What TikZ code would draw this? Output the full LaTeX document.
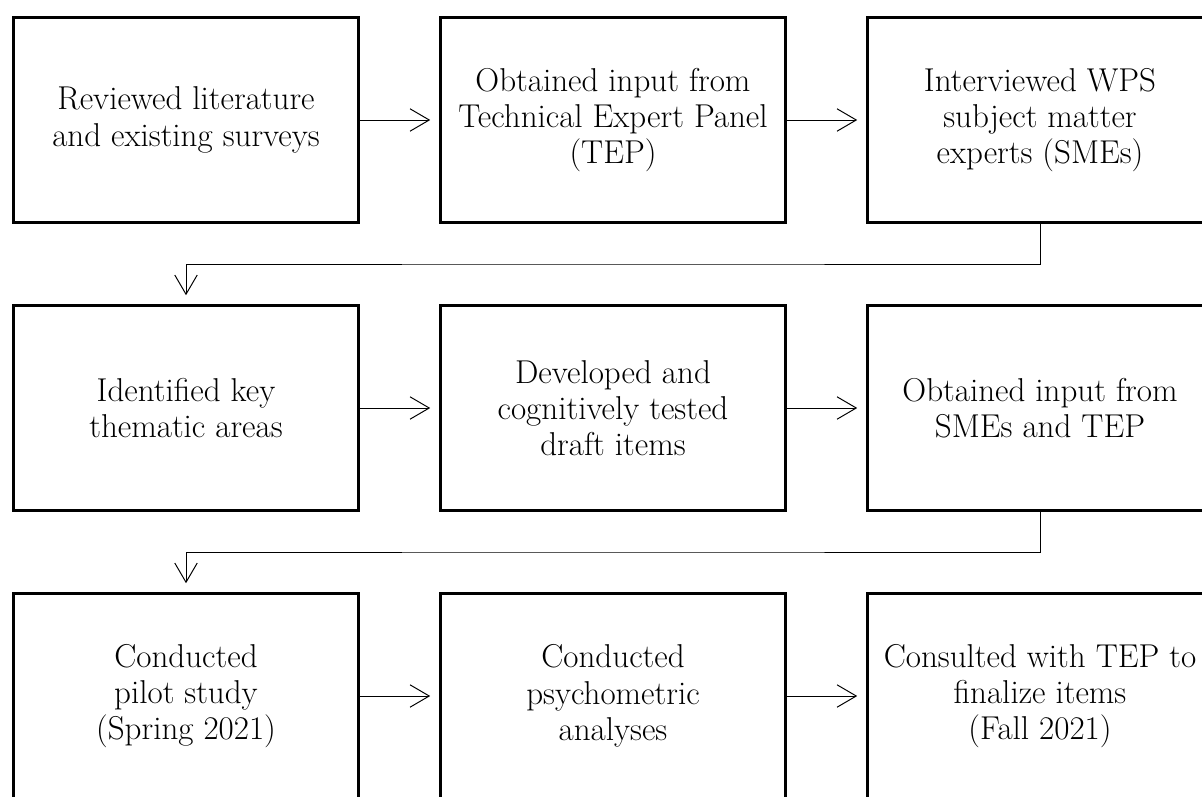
\documentclass[tikz,border=0pt]{standalone}
\usetikzlibrary{arrows.meta,calc}
\tikzset{
	stepbox/.style={draw, line width=1.9pt, minimum width=8.63cm, minimum height=5.13cm, inner sep=0pt, align=center, font=\fontsize{23.5}{25.8}\selectfont},
	link/.style={line width=0.7pt, -{Straight Barb[length=4.8mm,width=5.6mm,line width=0.7pt]}, shorten >=2.2mm}
}

\begin{document}
\begin{tikzpicture}[x=0.025cm, y=-0.025cm]
			%%%%% START %%%%%
			
			\clip (0, 0) rectangle (1202, 796);
			
			\node[stepbox] (review) at (186, 120) {Reviewed literature\\and existing surveys};
			\node[stepbox] (teppanel) at (613, 120) {Obtained input from\\Technical Expert Panel\\(TEP)};
			\node[stepbox] (smes) at (1040, 120) {Interviewed WPS\\subject matter\\experts (SMEs)};
			
			\node[stepbox] (themes) at (186, 408) {Identified key\\thematic areas};
			\node[stepbox] (drafts) at (613, 408) {Developed and\\cognitively tested\\draft items};
			\node[stepbox] (smetep) at (1040, 408) {Obtained input from\\SMEs and TEP};
			
			\node[stepbox] (pilot) at (186, 696) {Conducted\\pilot study\\(Spring 2021)};
			\node[stepbox] (psycho) at (613, 696) {Conducted\\psychometric\\analyses};
			\node[stepbox] (final) at (1040, 696) {Consulted with TEP to\\finalize items\\(Fall 2021)};
			
			\draw[link] (review) -- (teppanel);
			\draw[link] (teppanel) -- (smes);
			\draw[link] (smes.south) |- ($(smes.south)!.5!(themes.north)$) -| (themes.north);
			
			\draw[link] (themes) -- (drafts);
			\draw[link] (drafts) -- (smetep);
			\draw[link] (smetep.south) |- ($(smetep.south)!.5!(pilot.north)$) -| (pilot.north);
			
			\draw[link] (pilot) -- (psycho);
			\draw[link] (psycho) -- (final);
			
			%%%%% END %%%%%
\end{tikzpicture}
\end{document}
